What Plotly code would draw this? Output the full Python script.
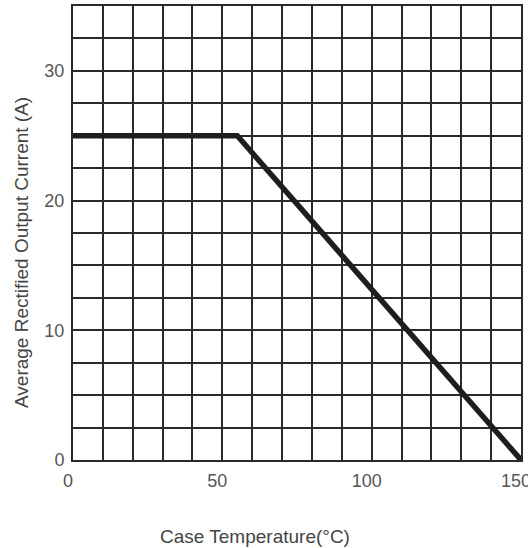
import plotly.graph_objects as go

# Derating curve: case temperature (°C) vs average rectified output current (A)
case_temp = [0, 55, 150]
output_current = [25, 25, 0]

x_ticks = [0, 50, 100, 150]
y_ticks = [0, 10, 20, 30]

x_title = "Case Temperature(°C)"
y_title = "Average Rectified Output Current (A)"

grid_color = "#2a2a2a"
label_color = "#555555"
title_color = "#444444"
font_family = "Liberation Sans, Arial, sans-serif"

fig = go.Figure()
fig.add_trace(go.Scatter(
    x=case_temp, y=output_current, mode="lines",
    line=dict(color="#1e1e1e", width=5.5),
    showlegend=False, hoverinfo="skip", cliponaxis=False,
))

fig.update_layout(
    width=528, height=548,
    margin=dict(l=73, r=7, t=6, b=88),
    paper_bgcolor="white", plot_bgcolor="white",
    font=dict(family=font_family, size=18, color=label_color),
)

fig.update_xaxes(
    range=[0, 150], tickvals=x_ticks, ticktext=[str(v) for v in x_ticks],
    showgrid=True, gridcolor=grid_color, gridwidth=1.5,
    minor=dict(dtick=10, tick0=0, showgrid=True, gridcolor=grid_color, gridwidth=1.5),
    showline=True, linecolor=grid_color, linewidth=2, mirror=True,
    zeroline=False, ticks="", ticklabelshift=-5, ticklabelstandoff=3,
    ticklabeloverflow="allow", automargin=False,
    tickfont=dict(size=18, color=label_color),
)
fig.update_yaxes(
    range=[0, 35], tickvals=y_ticks, ticktext=[str(v) for v in y_ticks],
    showgrid=True, gridcolor=grid_color, gridwidth=1.5,
    minor=dict(dtick=2.5, tick0=0, showgrid=True, gridcolor=grid_color, gridwidth=1.5),
    showline=True, linecolor=grid_color, linewidth=2, mirror=True,
    zeroline=False, ticks="", ticklabelstandoff=3,
    ticklabeloverflow="allow", automargin=False,
    tickfont=dict(size=18, color=label_color),
)

# Axis titles placed as in the reference (offset from plot centre)
fig.add_annotation(
    text=x_title, xref="paper", yref="paper", x=0.406, y=-0.1696,
    xanchor="center", yanchor="middle", showarrow=False,
    font=dict(size=19, color=title_color, family=font_family),
)
fig.add_annotation(
    text=y_title, xref="paper", yref="paper", x=-0.1138, y=0.456,
    xanchor="center", yanchor="middle", showarrow=False, textangle=-90,
    font=dict(size=19, color=title_color, family=font_family),
)

fig.write_html(
    "out.html",
    config={"displayModeBar": False},
    post_script="document.body.style.margin='0';document.body.style.overflow='hidden';",
)
